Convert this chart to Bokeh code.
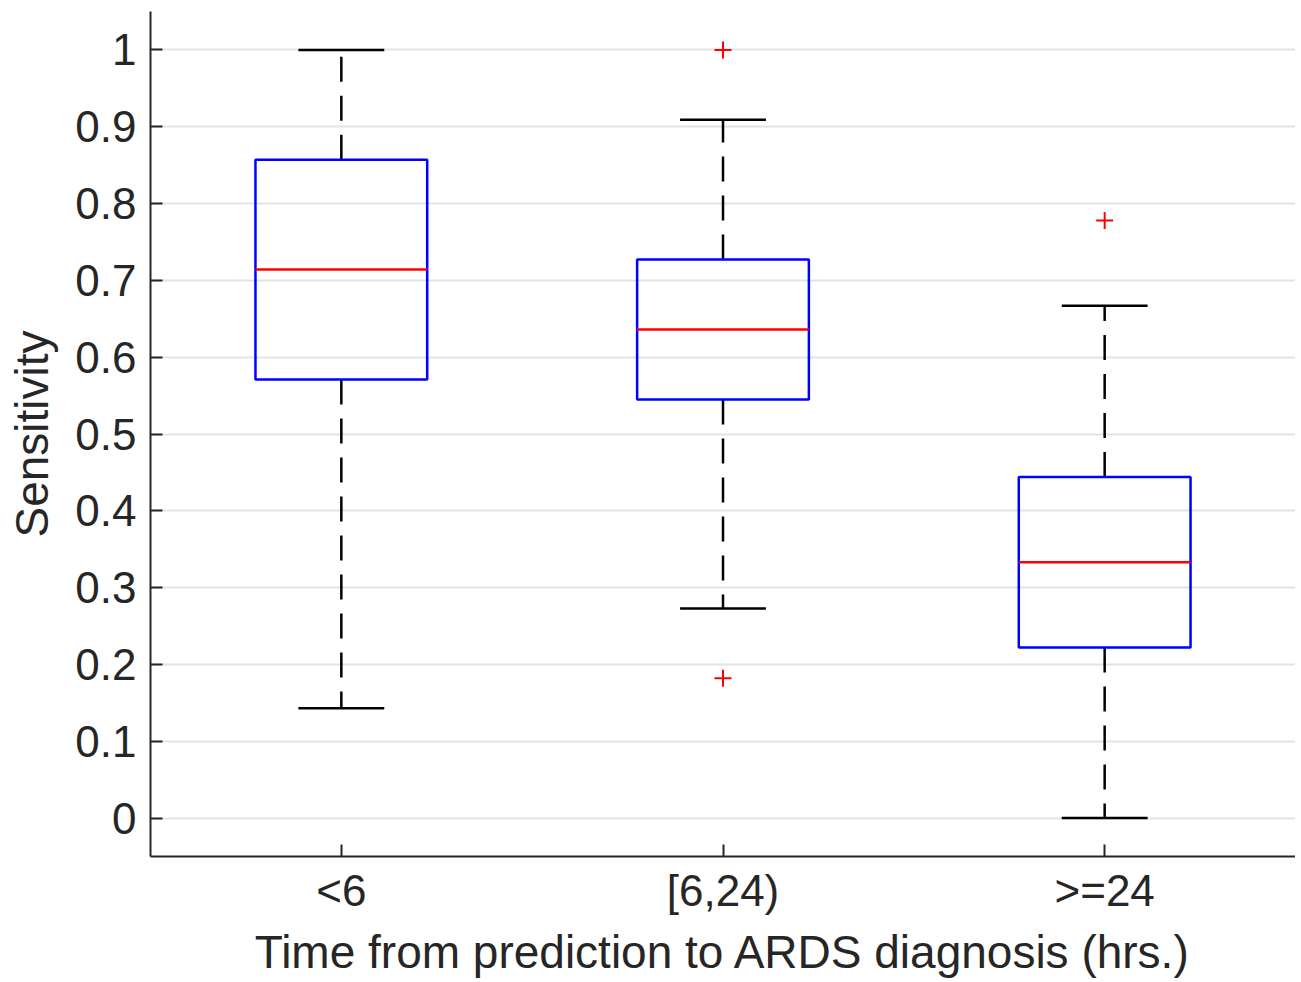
from bokeh.plotting import figure
from bokeh.models import FactorRange, Range1d, FixedTicker, ColumnDataSource, CustomJSTickFormatter
from bokeh.transform import dodge
from bokeh.embed import file_html
from bokeh.resources import INLINE

# ---- data ----
categories = ["<6", "[6,24)", ">=24"]
lower_whisker = [0.143, 0.273, 0.0]
q1 = [0.571, 0.545, 0.222]
median = [0.714, 0.636, 0.333]
q3 = [0.857, 0.727, 0.444]
upper_whisker = [1.0, 0.909, 0.667]
outlier_cat = ["[6,24)", "[6,24)", ">=24"]
outlier_val = [1.0, 0.182, 0.778]
y_ticks = [0, 0.1, 0.2, 0.3, 0.4, 0.5, 0.6, 0.7, 0.8, 0.9, 1.0]

src = ColumnDataSource(dict(cat=categories, lw=lower_whisker, q1=q1, med=median,
                            q3=q3, uw=upper_whisker))
out_src = ColumnDataSource(dict(cat=outlier_cat, val=outlier_val))

FONT = "Liberation Sans"
AX = "#262626"

p = figure(width=1295, height=982, output_backend="svg", toolbar_location=None,
           x_range=FactorRange(*categories, range_padding=0),
           y_range=Range1d(-0.05, 1.05),
           min_border_left=150, min_border_right=0, min_border_top=11, min_border_bottom=126)
p.outline_line_color = None
p.xgrid.grid_line_color = None
p.ygrid.ticker = FixedTicker(ticks=y_ticks)
p.ygrid.grid_line_color = "#e3e3e3"
p.ygrid.grid_line_width = 2

BOX_W = 0.45
CAP_W = 0.225

# whiskers (dashed), drawn from box edge outward
p.segment(x0="cat", x1="cat", y0="q3", y1="uw", source=src, line_color="black",
          line_width=2.5, line_dash="25 14")
p.segment(x0="cat", x1="cat", y0="q1", y1="lw", source=src, line_color="black",
          line_width=2.5, line_dash="25 14")
# caps
p.segment(x0=dodge("cat", -CAP_W / 2, range=p.x_range), x1=dodge("cat", CAP_W / 2, range=p.x_range),
          y0="uw", y1="uw", source=src, line_color="black", line_width=2.5)
p.segment(x0=dodge("cat", -CAP_W / 2, range=p.x_range), x1=dodge("cat", CAP_W / 2, range=p.x_range),
          y0="lw", y1="lw", source=src, line_color="black", line_width=2.5)
# boxes
p.vbar(x="cat", width=BOX_W, top="q3", bottom="q1", source=src, fill_color=None,
       line_color="#0000ff", line_width=2.5)
# medians
p.segment(x0=dodge("cat", -BOX_W / 2, range=p.x_range), x1=dodge("cat", BOX_W / 2, range=p.x_range),
          y0="med", y1="med", source=src, line_color="#ff0000", line_width=2.5)
# outliers
p.scatter(x="cat", y="val", source=out_src, marker="cross", size=17,
          line_color="#ff0000", line_width=2)

for ax in (p.xaxis[0], p.yaxis[0]):
    ax.axis_line_color = AX
    ax.axis_line_width = 2
    ax.major_tick_line_color = AX
    ax.major_tick_line_width = 2
    ax.major_tick_in = 12
    ax.major_tick_out = 0
    ax.minor_tick_line_color = None
    ax.major_label_text_font = FONT
    ax.major_label_text_font_size = "44px"
    ax.major_label_text_color = AX
    ax.axis_label_text_font = FONT
    ax.axis_label_text_font_size = "46px"
    ax.axis_label_text_font_style = "normal"
    ax.axis_label_text_color = AX

p.yaxis.ticker = FixedTicker(ticks=y_ticks)
p.yaxis.formatter = CustomJSTickFormatter(code="return tick.toFixed(1).replace(/\\.0$/, '');")
p.yaxis.major_label_standoff = 14
p.yaxis.axis_label = "Sensitivity"
p.yaxis.axis_label_standoff = 14
p.xaxis.major_label_standoff = 9
p.xaxis.axis_label = "Time from prediction to ARDS diagnosis (hrs.)"
p.xaxis.axis_label_standoff = 8

open("out.html", "w").write(file_html(p, INLINE))
